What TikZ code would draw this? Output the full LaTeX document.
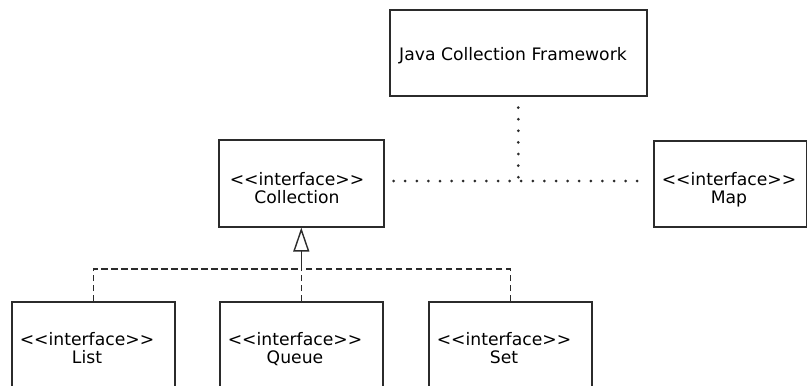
\documentclass[tikz,border=0pt]{standalone}
\usepackage{fontspec}
\setmainfont{DejaVu Sans}[Ligatures=TeXOff]
\usetikzlibrary{arrows.meta}
\definecolor{linec}{HTML}{2B2B2B}
\definecolor{textc}{HTML}{000000}
\tikzset{
  umlbox/.style={draw=linec, line width=1.6pt, inner sep=0pt, anchor=north west, fill=white},
  lbl/.style={font=\fontsize{17.2}{18}\selectfont, text=textc, anchor=base, inner sep=0pt},
  dotline/.style={draw=linec, line width=3pt, line cap=round, dash pattern=on 0pt off 11.6pt},
  dashline/.style={draw=linec, line width=1.4pt, dash pattern=on 6.5pt off 3.5pt},
  genline/.style={draw=linec, line width=1.4pt, -{Triangle[open, length=24pt, width=16pt]}}
}
\begin{document}
\begin{tikzpicture}[x=1pt, y=-1pt]
\fill[white] (0,0) rectangle (807,386);
\useasboundingbox (0,0) rectangle (807,386);
\clip (0,0) rectangle (807,386);

% boxes
\node[umlbox, minimum width=257pt, minimum height=86pt] (jcf) at (389,9) {};
\node[umlbox, minimum width=165pt, minimum height=87pt] (coll) at (218,139) {};
\node[umlbox, minimum width=153pt, minimum height=86pt] (map) at (653,140) {};
\node[umlbox, minimum width=163pt, minimum height=120pt] (list) at (11,301) {};
\node[umlbox, minimum width=163pt, minimum height=120pt] (queue) at (219,301) {};
\node[umlbox, minimum width=163pt, minimum height=120pt] (set) at (428,301) {};

% texts
\node[lbl] (jcfT) at (513,60) {Java Collection Framework};
\node[lbl] (collS) at (297,185) {<<interface>>};
\node[lbl] (collN) at (297,203) {Collection};
\node[lbl] (mapS) at (729,185) {<<interface>>};
\node[lbl] (mapN) at (729,203) {Map};
\node[lbl] (listS) at (87,345) {<<interface>>};
\node[lbl] (listN) at (87,363) {List};
\node[lbl] (queueS) at (295,345) {<<interface>>};
\node[lbl] (queueN) at (295,363) {Queue};
\node[lbl] (setS) at (504,345) {<<interface>>};
\node[lbl] (setN) at (504,363) {Set};

% dotted connectors
\coordinate (J) at (jcf.south |- 0,181);
\draw[dotline, shorten <=9pt, shorten >=5pt] (coll.east |- J) -- (map.west |- J);
\draw[dotline, shorten <=11pt] (jcf.south) -- (J);

% realization / generalization
\coordinate (T) at (coll.south |- 0,269);
\draw[dashline] (list.north) |- (T);
\draw[dashline] (set.north) |- (T);
\draw[dashline] (queue.north -| T) -- (T);
\draw[genline] (T) -- (coll.south);
\end{tikzpicture}
\end{document}
